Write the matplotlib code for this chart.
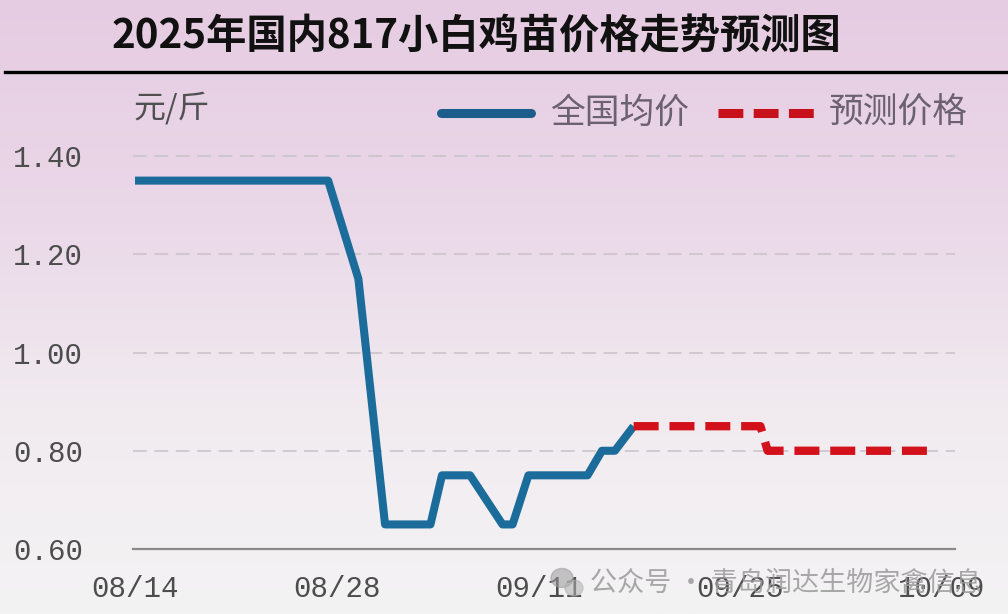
import numpy as np
import matplotlib
matplotlib.use('Agg')
import matplotlib.pyplot as plt
from matplotlib.lines import Line2D
from matplotlib.patches import Ellipse
from matplotlib.colors import LinearSegmentedColormap

# data (x = days since 08/14)
days_actual = [0, 13.4, 15.5, 17.35, 20.5, 21.3, 23.25, 25.5, 26.2, 27.3, 31.4, 32.4, 33.3, 34.6]
price_actual = [1.35, 1.35, 1.15, 0.65, 0.65, 0.75, 0.75, 0.65, 0.65, 0.75, 0.75, 0.80, 0.80, 0.85]
days_forecast = [34.6, 43.4, 43.9, 55.7]
price_forecast = [0.85, 0.85, 0.80, 0.80]
tick_days = [0, 14, 28, 42, 56]
tick_labels = ['08/14', '08/28', '09/11', '09/25', '10/09']
y_ticks = [0.60, 0.80, 1.00, 1.20, 1.40]
grid_levels = [0.80, 1.00, 1.20, 1.40]

title = '2025年国内817小白鸡苗价格走势预测图'
unit = '元/斤'
series_names = ['全国均价', '预测价格']
watermark = '公众号 · 青岛润达生物家禽信息'

CJK = ['Noto Sans CJK SC', 'DejaVu Sans']
MONO = 'Liberation Mono'
W, H = 1008, 614

fig = plt.figure(figsize=(W / 100, H / 100), dpi=100)

# background gradient
bg = fig.add_axes([0, 0, 1, 1], zorder=-10)
cmap = LinearSegmentedColormap.from_list('bg', ['#e6cce2', '#ead7e8', '#f1ebf0', '#f4f3f4'])
bg.imshow(np.linspace(0, 1, 256).reshape(-1, 1), aspect='auto', cmap=cmap,
          extent=[0, 1, 0, 1], origin='upper')
bg.axis('off')

ax = fig.add_axes([133 / W, 1 - 549 / H, (955 - 133) / W, (549 - 131.5) / H])
ax.set_facecolor('none')
ax.set_xlim(-0.14, 56.9)
ax.set_ylim(0.60, 1.45)

for g in grid_levels:
    ax.axhline(g, color='#c8c1c8', lw=1.1, linestyle=(0, (9, 5)), zorder=1)

ax.plot(days_actual, price_actual, color='#1b6c9b', lw=5.8,
        solid_joinstyle='round', solid_capstyle='butt', zorder=3)
ax.plot(days_forecast, price_forecast, color='#d3111b', lw=6,
        linestyle=(0, (3.0, 1.3)), dash_capstyle='butt', dash_joinstyle='round', zorder=3)

for s in ['left', 'top', 'right']:
    ax.spines[s].set_visible(False)
ax.spines['bottom'].set_color('#8a8a8a')
ax.spines['bottom'].set_linewidth(1.6)

ax.set_xticks(tick_days)
ax.set_xticklabels(tick_labels, fontfamily=MONO, fontsize=21, color='#4d4d4d')
ax.set_yticks(y_ticks)
ax.set_yticklabels(['%.2f' % v for v in y_ticks], fontfamily=MONO, fontsize=21, color='#4d4d4d')
ax.tick_params(axis='x', length=0, pad=19)
ax.tick_params(axis='y', length=0, pad=36)

# title and rule
fig.text(112 / W, 1 - 37 / H, title, fontsize=29, fontweight='bold', color='#111111',
         ha='left', va='center', family=CJK)
fig.add_artist(Line2D([5 / W, 1], [1 - 72 / H] * 2, transform=fig.transFigure,
                      color='black', lw=2.4))

# unit label
fig.text(133 / W, 1 - 108 / H, unit, fontsize=23, color='#505050',
         ha='left', va='center', family=CJK)

# legend
fig.add_artist(Line2D([441 / W, 531 / W], [1 - 113 / H] * 2, transform=fig.transFigure,
                      color='#1d5d8c', lw=6.5, solid_capstyle='round'))
fig.text(550 / W, 1 - 113 / H, series_names[0], fontsize=25, color='#6b6170',
         ha='left', va='center', family=CJK)
fig.add_artist(Line2D([718 / W, 815 / W], [1 - 113 / H] * 2, transform=fig.transFigure,
                      color='#c8101a', lw=6.5, linestyle=(0, (2.75, 1.15)),
                      dash_capstyle='butt'))
fig.text(829 / W, 1 - 113 / H, series_names[1], fontsize=25, color='#6b6170',
         ha='left', va='center', family=CJK)

# watermark
fig.add_artist(Ellipse((562 / W, 1 - 578 / H), 22 / W, 19 / H, transform=fig.transFigure,
                       color='#9a9a9a', alpha=0.55, zorder=5))
fig.add_artist(Ellipse((574 / W, 1 - 588 / H), 18 / W, 16 / H, transform=fig.transFigure,
                       color='#b0b0b0', alpha=0.55, zorder=5))
fig.text(590 / W, 1 - 583 / H, watermark, fontsize=19.5, color='#9a9a9a', alpha=0.85,
         ha='left', va='center', family=CJK, zorder=6)

fig.savefig('out.png', dpi=100)
